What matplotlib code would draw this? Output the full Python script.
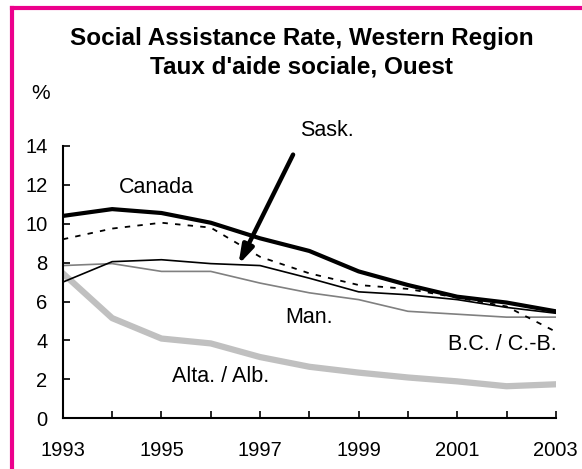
import numpy as np
import matplotlib.pyplot as plt
from matplotlib.lines import Line2D

plt.rcParams['font.family'] = ['Liberation Sans', 'DejaVu Sans']

years = np.arange(1993, 2004)
canada = [10.4, 10.75, 10.55, 10.05, 9.25, 8.6, 7.55, 6.85, 6.25, 5.95, 5.5]
sask = [7.0, 8.05, 8.15, 7.95, 7.85, 7.2, 6.5, 6.35, 6.1, 5.7, 5.4]
man = [7.85, 7.95, 7.55, 7.55, 6.95, 6.45, 6.1, 5.5, 5.35, 5.2, 5.2]
bc = [9.2, 9.75, 10.05, 9.8, 8.3, 7.45, 6.85, 6.65, 6.2, 5.75, 4.45]
alta = [7.45, 5.15, 4.1, 3.85, 3.15, 2.65, 2.35, 2.1, 1.9, 1.65, 1.75]

fig = plt.figure(figsize=(5.82, 4.69), dpi=100)
ax = fig.add_axes([0.108, 0.108, 0.847, 0.581])

ax.plot(years, alta, color='#c0c0c0', lw=4.5, solid_joinstyle='round')
ax.plot(years, man, color='#808080', lw=1.2)
ax.plot(years, sask, color='black', lw=1.2)
ax.plot(years, bc, color='black', lw=1.3, ls=(0, (3, 4)))
ax.plot(years, canada, color='black', lw=3)

ax.set_xlim(1993, 2003)
ax.set_ylim(0, 14)
ax.set_xticks(years)
ax.set_xticklabels([str(y) if (y - 1993) % 2 == 0 else '' for y in years])
ax.set_yticks(range(0, 15, 2))
ax.tick_params(direction='in', length=5, width=1.2, labelsize=14.5)
ax.tick_params(axis='y', pad=11)
ax.tick_params(axis='x', pad=16)
for s in ['top', 'right']:
    ax.spines[s].set_visible(False)
for s in ['left', 'bottom']:
    ax.spines[s].set_linewidth(1.5)

fs = 15.5
ax.text(1994.9, 11.85, 'Canada', fontsize=fs, ha='center', va='center')
ax.text(1998.0, 5.17, 'Man.', fontsize=fs, ha='center', va='center')
ax.text(2001.92, 3.78, 'B.C. / C.-B.', fontsize=fs, ha='center', va='center')
ax.text(1996.2, 2.13, 'Alta. / Alb.', fontsize=fs, ha='center', va='center')
ax.text(1998.35, 14.78, 'Sask.', fontsize=fs, ha='center', va='center', clip_on=False)
ax.annotate('', xy=(1996.56, 7.89), xytext=(1997.67, 13.55),
            annotation_clip=False,
            arrowprops=dict(arrowstyle='-|>,head_length=0.55,head_width=0.17',
                            color='black', lw=3.2, capstyle='round',
                            mutation_scale=20, shrinkA=0, shrinkB=0))

fig.text(0.518, 0.918, 'Social Assistance Rate, Western Region',
         fontsize=17.5, fontweight='bold', ha='center', va='center')
fig.text(0.518, 0.858, "Taux d'aide sociale, Ouest",
         fontsize=17.5, fontweight='bold', ha='center', va='center')
fig.text(0.069, 0.8, '%', fontsize=15, ha='center', va='center')

mag = '#ec008c'
fig.add_artist(Line2D([12 / 582, 12 / 582], [0, 1 - 8 / 469], color=mag, lw=3,
                      transform=fig.transFigure, solid_capstyle='projecting'))
fig.add_artist(Line2D([12 / 582, 1], [1 - 8 / 469, 1 - 8 / 469], color=mag, lw=3,
                      transform=fig.transFigure, solid_capstyle='projecting'))

fig.savefig('out.png', dpi=100)
